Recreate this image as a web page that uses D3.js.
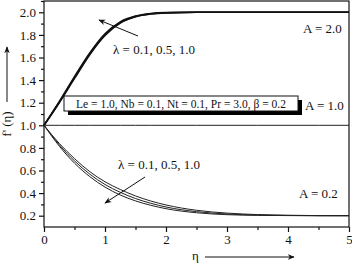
<!DOCTYPE html>
<html>
<head>
<meta charset="utf-8">
<script src="https://cdn.jsdelivr.net/npm/d3@7"></script>
<style>
  body { margin: 0; background: #fff; }
  svg { display: block; }
  text { font-family: "Liberation Serif", "Times New Roman", serif; fill: #111; }
</style>
</head>
<body>
<script>
// eta grid shared by every curve
var eta = [0, 0.25, 0.5, 0.75, 1.0, 1.25, 1.5, 1.75, 2.0, 2.5, 3.0, 3.5, 4.0, 4.5, 5.0]

// A = 2.0 (lambda = 0.1, 0.5, 1.0)
var a2_l01 = [1.0, 1.200, 1.415, 1.625, 1.795, 1.905, 1.960, 1.985, 1.995, 2.0, 2.0, 2.0, 2.0, 2.0, 2.0]
var a2_l05 = [1.0, 1.205, 1.422, 1.632, 1.802, 1.910, 1.963, 1.987, 1.996, 2.0, 2.0, 2.0, 2.0, 2.0, 2.0]
var a2_l10 = [1.0, 1.210, 1.430, 1.640, 1.810, 1.915, 1.966, 1.989, 1.997, 2.0, 2.0, 2.0, 2.0, 2.0, 2.0]

// A = 1.0
var a1 = [1.0, 1.0, 1.0, 1.0, 1.0, 1.0, 1.0, 1.0, 1.0, 1.0, 1.0, 1.0, 1.0, 1.0, 1.0]

// A = 0.2 (lambda = 0.1, 0.5, 1.0)
var a02_l01 = [1.0, 0.840, 0.705, 0.590, 0.500, 0.432, 0.375, 0.330, 0.295, 0.248, 0.223, 0.210, 0.204, 0.201, 0.200]
var a02_l05 = [1.0, 0.828, 0.685, 0.568, 0.476, 0.407, 0.352, 0.310, 0.277, 0.236, 0.215, 0.206, 0.202, 0.200, 0.200]
var a02_l10 = [1.0, 0.816, 0.665, 0.546, 0.453, 0.383, 0.331, 0.292, 0.262, 0.226, 0.209, 0.203, 0.201, 0.200, 0.200]

var xTicks = [0, 1, 2, 3, 4, 5]
var yTicks = [0.2, 0.4, 0.6, 0.8, 1.0, 1.2, 1.4, 1.6, 1.8, 2.0]

var screen = {width: 352, height: 263}
var margins = {top: 1, bottom: 36, left: 44, right: 3}
var width = screen.width - margins.left - margins.right
var height = screen.height - margins.top - margins.bottom

var xScale = d3.scaleLinear().domain([0, 5]).range([0, width])
var yScale = d3.scaleLinear().domain([0.1, 2.1]).range([height, 0])

var svg = d3.select("body").append("svg")
  .attr("width", screen.width)
  .attr("height", screen.height)

var defs = svg.append("defs")
defs.append("marker")
  .attr("id", "head")
  .attr("viewBox", "0 0 10 10")
  .attr("refX", 9).attr("refY", 5)
  .attr("markerWidth", 7).attr("markerHeight", 7)
  .attr("markerUnits", "userSpaceOnUse")
  .attr("orient", "auto")
  .append("path")
  .attr("d", "M0,1 L10,5 L0,9 L3,5 Z")
  .attr("fill", "#111")

var plot = svg.append("g")
  .attr("transform", "translate(" + margins.left + "," + margins.top + ")")

// frame
plot.append("rect")
  .attr("width", width).attr("height", height)
  .attr("fill", "none").attr("stroke", "#111").attr("stroke-width", 1.2)

// axes, major + minor
var xAxis = d3.axisBottom(xScale).tickValues(xTicks).tickFormat(d3.format("d")).tickSize(5).tickPadding(3)
var xMinor = d3.axisBottom(xScale).tickValues([0.5, 1.5, 2.5, 3.5, 4.5]).tickFormat("").tickSize(3)
var yAxis = d3.axisLeft(yScale).tickValues(yTicks).tickFormat(d3.format(".1f")).tickSize(5).tickPadding(3)
var yMinor = d3.axisLeft(yScale).tickValues([0.3, 0.5, 0.7, 0.9, 1.1, 1.3, 1.5, 1.7, 1.9, 2.1]).tickFormat("").tickSize(3)

function styleAxis(g) {
  g.select(".domain").remove()
  g.selectAll("line").attr("stroke", "#111").attr("stroke-width", 1.2)
  g.selectAll("text").style("font-family", "'Liberation Serif', serif").style("font-size", "13px").attr("fill", "#111")
}

plot.append("g").attr("transform", "translate(0," + height + ")").call(xAxis).call(styleAxis)
plot.append("g").attr("transform", "translate(0," + height + ")").call(xMinor).call(styleAxis)
plot.append("g").call(yAxis).call(styleAxis)
plot.append("g").call(yMinor).call(styleAxis)

// curves
var line = d3.line()
  .x(function(d, i) { return xScale(eta[i]) })
  .y(function(d) { return yScale(d) })
  .curve(d3.curveMonotoneX)

var upper = [a2_l01, a2_l05, a2_l10]
var lower = [a02_l01, a02_l05, a02_l10]

plot.selectAll(".upper").data(upper).enter().append("path")
  .attr("d", line).attr("fill", "none").attr("stroke", "#111").attr("stroke-width", 1.6)
plot.append("path").datum(a1)
  .attr("d", line).attr("fill", "none").attr("stroke", "#222").attr("stroke-width", 1)
plot.selectAll(".lower").data(lower).enter().append("path")
  .attr("d", line).attr("fill", "none").attr("stroke", "#222").attr("stroke-width", 1)

// parameter box with shadow
plot.append("rect").attr("x", 24).attr("y", 99).attr("width", 234).attr("height", 15).attr("fill", "#000")
plot.append("rect").attr("x", 20).attr("y", 95).attr("width", 234).attr("height", 15)
  .attr("fill", "#fff").attr("stroke", "#111").attr("stroke-width", 1)
plot.append("text").attr("x", 137).attr("y", 107).attr("text-anchor", "middle")
  .style("font-size", "11.5px").text("Le = 1.0, Nb = 0.1, Nt = 0.1, Pr = 3.0, β = 0.2")

// curve labels
var labels = [
  {t: "A = 2.0", x: 259, y: 32},
  {t: "A = 1.0", x: 261, y: 109},
  {t: "A = 0.2", x: 255, y: 197},
  {t: "λ = 0.1, 0.5, 1.0", x: 69, y: 53},
  {t: "λ = 0.1, 0.5, 1.0", x: 74, y: 168}
]
plot.selectAll(".lab").data(labels).enter().append("text")
  .attr("x", function(d) { return d.x }).attr("y", function(d) { return d.y })
  .style("font-size", "13px").text(function(d) { return d.t })

// lambda arrows
plot.append("line").attr("x1", 94).attr("y1", 35).attr("x2", 55).attr("y2", 19)
  .attr("stroke", "#111").attr("stroke-width", 1).attr("marker-end", "url(#head)")
plot.append("line").attr("x1", 101).attr("y1", 176).attr("x2", 61).attr("y2", 202)
  .attr("stroke", "#111").attr("stroke-width", 1).attr("marker-end", "url(#head)")

// axis titles
svg.append("text").attr("transform", "translate(11,124) rotate(-90)")
  .attr("text-anchor", "middle").style("font-size", "13px").text("f' (η)")
svg.append("line").attr("x1", 7).attr("y1", 102).attr("x2", 7).attr("y2", 47)
  .attr("stroke", "#111").attr("stroke-width", 1).attr("marker-end", "url(#head)")

svg.append("text").attr("x", 192).attr("y", 260).style("font-size", "13px").text("η")
svg.append("line").attr("x1", 205).attr("y1", 257).attr("x2", 294).attr("y2", 257)
  .attr("stroke", "#111").attr("stroke-width", 1).attr("marker-end", "url(#head)")
</script>
</body>
</html>
